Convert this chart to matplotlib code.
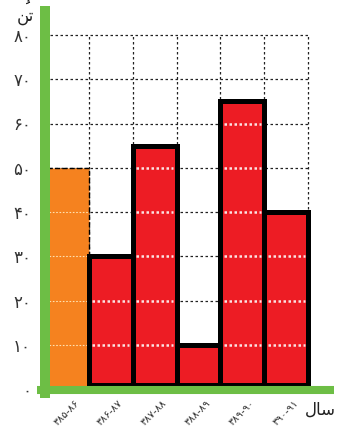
import matplotlib
matplotlib.use("Agg")
import matplotlib.pyplot as plt
from matplotlib.lines import Line2D

# ---- data ----
categories = ["۳۸۵-۸۶", "۳۸۶-۸۷", "۳۸۷-۸۸", "۳۸۸-۸۹", "۳۸۹-۹۰", "۳۹۰-۹۱"]
values = [50, 30, 55, 10, 65, 40]
y_ticks = [0, 10, 20, 30, 40, 50, 60, 70, 80]
y_tick_labels = ["۰", "۱۰", "۲۰", "۳۰", "۴۰", "۵۰", "۶۰", "۷۰", "۸۰"]
x_title = "\uFEDD\uFE8E\uFEB3"          # سال (shaped, visual order)
y_title = "\uFEE6\uFE97"                # تن (shaped, visual order)
y_title_mark = "\uFE78"                 # damma over ت

ORANGE = "#F5821F"
RED = "#ED1C24"
GREEN = "#6DBE45"

W, H = 342, 426
fig = plt.figure(figsize=(W / 100, H / 100), dpi=100)
plt.rcParams['font.family'] = ['DejaVu Sans']

ymin, ymax = -2, 86.5
px_per_unit = (389 - 35) / 80.0
bottom_px = 389 + (0 - ymin) * px_per_unit
top_px = 389 - ymax * px_per_unit
ax = fig.add_axes([45 / W, (H - bottom_px) / H, (330 - 45) / W, (bottom_px - top_px) / H])
ax.set_xlim(0, 6.5)
ax.set_ylim(ymin, ymax)
for s in ax.spines.values():
    s.set_visible(False)

# grid
ncat = len(categories)
ax.hlines(y_ticks[1:], 0, ncat, colors="#222222", linestyles=(0, (2, 2)), linewidth=0.9, zorder=1)
ax.vlines(range(1, ncat + 1), 0, y_ticks[-1], colors="#222222", linestyles=(0, (2, 2)), linewidth=0.9, zorder=1)

# orange bar (first)
ax.bar(0, values[0], width=1, align="edge", color=ORANGE, edgecolor="black",
       linestyle="--", linewidth=1.0, zorder=2)
ax.hlines([t for t in y_ticks[1:] if t < values[0]], 0.1, 1, colors="#FFE0B0",
          linestyles=(0, (1.5, 1.5)), linewidth=0.8, zorder=2.5)

# red bars
for i in range(1, ncat):
    v = values[i]
    ax.bar(i, v - 1, bottom=1, width=1, align="edge", color=RED, edgecolor="black",
           linewidth=3.6, zorder=3)
    lv = [t for t in y_ticks[1:] if t < v - 1]
    ax.hlines(lv, i + 0.08, i + 0.92, colors="#FBE3E3", linestyles=(0, (1.0, 1.0)),
              linewidth=1.8, zorder=3.5)

# green axes
ax.add_line(Line2D([0, 0], [ymin, ymax], color=GREEN, linewidth=7.2, zorder=5,
                   solid_capstyle="butt", clip_on=False))
ax.add_line(Line2D([-0.18, 6.6], [-0.2, -0.2], color=GREEN, linewidth=5.8, zorder=5,
                   solid_capstyle="butt", clip_on=False))

# ticks
ax.set_yticks(y_ticks)
ax.set_yticklabels(y_tick_labels, fontsize=12, color="#333333")
ax.tick_params(axis="y", length=0, pad=10)
ax.set_xticks([i + 0.66 for i in range(ncat)])
ax.set_xticklabels(categories, fontsize=7.5, color="#333333", rotation=45,
                   ha="right", va="top", rotation_mode="anchor")
ax.tick_params(axis="x", length=0, pad=0)

fig.text(305 / W, 1 - 410 / H, x_title, fontsize=12, color="#222222", ha="left", va="center")
fig.text(25 / W, 1 - 16 / H, y_title, fontsize=12, color="#222222", ha="center", va="center")
fig.text(28 / W, 1 - 1 / H, y_title_mark, fontsize=10, color="#222222", ha="center", va="top")

fig.savefig("out.png", dpi=100)
